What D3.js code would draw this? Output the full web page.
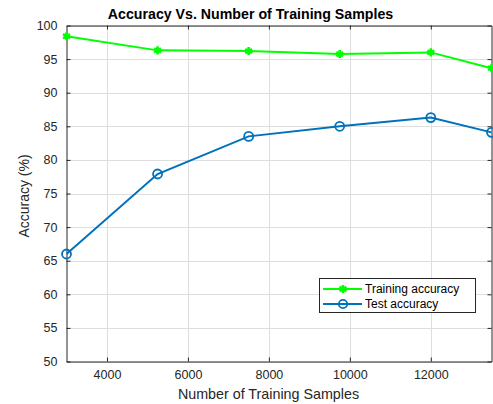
<!DOCTYPE html>
<html>
<head>
<meta charset="utf-8">
<script src="https://cdn.jsdelivr.net/npm/d3@7"></script>
<style>
  body { margin: 0; background: #fff; }
  svg { font-family: "Liberation Sans", Arial, sans-serif; }
</style>
</head>
<body>
<svg id="chart" width="493" height="404"></svg>
<script>
// data
const samples = [3000, 5250, 7500, 9750, 12000, 13500];
const trainAcc = [98.4, 96.3, 96.2, 95.75, 96.0, 93.65];
const testAcc = [66.0, 77.9, 83.5, 85.0, 86.3, 84.1];
const xTicks = [4000, 6000, 8000, 10000, 12000];
const yTicks = [50, 55, 60, 65, 70, 75, 80, 85, 90, 95, 100];

const plotL = 66.5, plotR = 491.5, plotT = 25.5, plotB = 361.5;
const svg = d3.select('#chart');

const x = d3.scaleLinear().domain([3000, 13500]).range([plotL, plotR]);
const y = d3.scaleLinear().domain([50, 100]).range([plotB, plotT]);

// grid
const grid = svg.append('g');
grid.selectAll('.gx').data(xTicks).join('line')
  .attr('x1', d => Math.round(x(d)) + 0.5).attr('x2', d => Math.round(x(d)) + 0.5)
  .attr('y1', plotT).attr('y2', plotB)
  .attr('stroke', '#dedede').attr('stroke-width', 1);
grid.selectAll('.gy').data(yTicks).join('line')
  .attr('y1', d => Math.round(y(d)) + 0.5).attr('y2', d => Math.round(y(d)) + 0.5)
  .attr('x1', plotL).attr('x2', plotR)
  .attr('stroke', '#dedede').attr('stroke-width', 1);

// axes (matlab style, ticks inward, box)
const axCol = '#262626';
const xAxis = svg.append('g').attr('transform', `translate(0,${plotB})`)
  .call(d3.axisBottom(x).tickValues(xTicks).tickFormat(d3.format('d'))
    .tickSizeInner(-4).tickSizeOuter(0).tickPadding(9));
const yAxis = svg.append('g').attr('transform', `translate(${plotL},0)`)
  .call(d3.axisLeft(y).tickValues(yTicks).tickSizeInner(-4).tickSizeOuter(0).tickPadding(9));
const xTop = svg.append('g').attr('transform', `translate(0,${plotT})`)
  .call(d3.axisTop(x).tickValues(xTicks).tickSizeInner(-4).tickSizeOuter(0).tickFormat(''));
const yRight = svg.append('g').attr('transform', `translate(${plotR},0)`)
  .call(d3.axisRight(y).tickValues(yTicks).tickSizeInner(-4).tickSizeOuter(0).tickFormat(''));

[xAxis, yAxis, xTop, yRight].forEach(a => {
  a.selectAll('path').attr('stroke', axCol);
  a.selectAll('line').attr('stroke', axCol);
  a.selectAll('text').attr('fill', axCol).style('font-size', '12.5px')
    .style('font-family', '"Liberation Sans", Arial, sans-serif');
});
xAxis.selectAll('text').attr('dy', '0.71em');

// lines
const line = d3.line().x((d, i) => x(samples[i])).y(d => y(d));

svg.append('path').datum(trainAcc).attr('d', line)
  .attr('fill', 'none').attr('stroke', '#00ff00').attr('stroke-width', 2);
svg.append('path').datum(testAcc).attr('d', line)
  .attr('fill', 'none').attr('stroke', '#0072bd').attr('stroke-width', 2);

const star = d3.symbol().type(d3.symbolAsterisk).size(45);
svg.selectAll('.trm').data(trainAcc).join('path')
  .attr('transform', (d, i) => `translate(${x(samples[i])},${y(d)})`)
  .attr('d', star).attr('fill', 'none').attr('stroke', '#00ff00').attr('stroke-width', 2.6);
svg.selectAll('.tsm').data(testAcc).join('circle')
  .attr('cx', (d, i) => x(samples[i])).attr('cy', d => y(d)).attr('r', 4.5)
  .attr('fill', 'none').attr('stroke', '#0072bd').attr('stroke-width', 1.8);

// title and labels
svg.append('text').attr('x', 250.5).attr('y', 18.5).attr('text-anchor', 'middle')
  .style('font-size', '14.2px').style('font-weight', 'bold').attr('fill', '#000')
  .text('Accuracy Vs. Number of Training Samples');
svg.append('text').attr('x', 268.5).attr('y', 399).attr('text-anchor', 'middle')
  .style('font-size', '14.3px').attr('fill', axCol).text('Number of Training Samples');
svg.append('text').attr('transform', 'translate(29,196) rotate(-90)').attr('text-anchor', 'middle')
  .style('font-size', '14px').attr('fill', axCol).text('Accuracy (%)');

// legend
const lg = svg.append('g');
lg.append('rect').attr('x', 319.5).attr('y', 278.5).attr('width', 156).attr('height', 34)
  .attr('fill', '#fff').attr('stroke', axCol).attr('stroke-width', 1);
const legItems = [
  { name: 'Training accuracy', color: '#00ff00', y: 289 },
  { name: 'Test accuracy', color: '#0072bd', y: 304 }
];
legItems.forEach((it, k) => {
  lg.append('line').attr('x1', 323).attr('x2', 362).attr('y1', it.y).attr('y2', it.y)
    .attr('stroke', it.color).attr('stroke-width', 2);
  if (k === 0) {
    lg.append('path').attr('transform', `translate(343,${it.y})`).attr('d', star)
      .attr('fill', 'none').attr('stroke', it.color).attr('stroke-width', 2.6);
  } else {
    lg.append('circle').attr('cx', 343).attr('cy', it.y).attr('r', 4.2)
      .attr('fill', 'none').attr('stroke', it.color).attr('stroke-width', 1.8);
  }
  lg.append('text').attr('x', 365).attr('y', it.y + 4).style('font-size', '12px')
    .attr('fill', '#000').text(it.name);
});
</script>
</body>
</html>
